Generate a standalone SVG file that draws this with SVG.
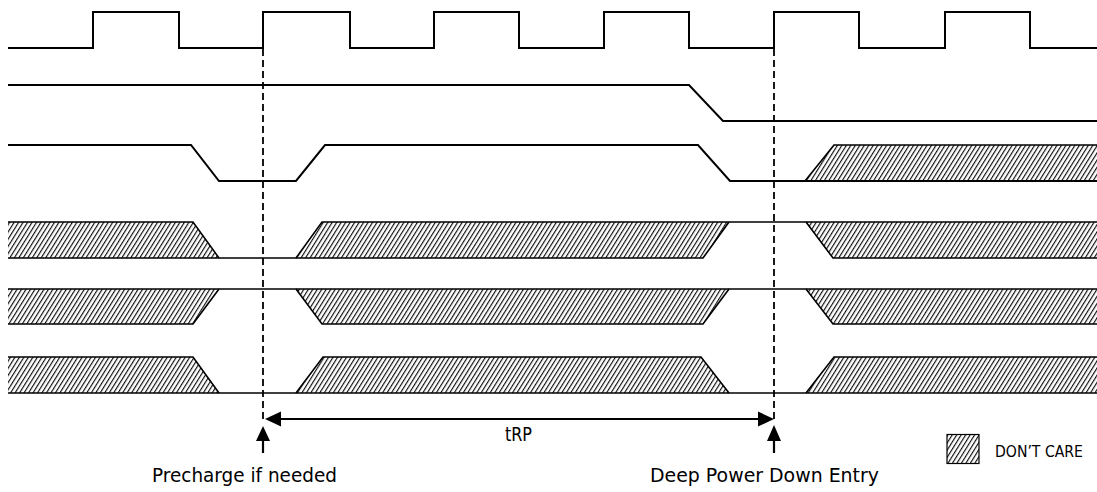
<svg xmlns="http://www.w3.org/2000/svg" width="1097" height="492" viewBox="0 0 1097 492">
<style>
.sig{fill:none;stroke:#000;stroke-width:2;stroke-linejoin:miter}
.bus{fill:none;stroke:#000;stroke-width:1.6}
.hatch{fill:url(#dc);stroke:none}
.dash{fill:none;stroke:#000;stroke-width:1.8;stroke-dasharray:7 4}
.arr{fill:none;stroke:#000;stroke-width:2.2}
.head{fill:#000}
.lbl{font-family:"DejaVu Sans","Verdana",sans-serif;fill:#000}
</style>
<defs>
<pattern id="dc" patternUnits="userSpaceOnUse" width="3.8" height="8" patternTransform="rotate(32)">
<rect width="3.8" height="8" fill="#fff"/>
<line x1="0.6" y1="0" x2="0.6" y2="8" stroke="#000" stroke-width="1.1"/>
</pattern>
</defs>
<rect width="1097" height="492" fill="#fff"/>

<g id="clk">
<path class="sig" d="M8,48 H93 V12 H179 V48 H263 V12 H350 V48 H434 V12 H519 V48 H604 V12 H689 V48 H774 V12 H859 V48 H945 V12 H1030 V48 H1097"/>
</g>

<g id="cke">
<path class="sig" d="M8,85 H689 L723,121 H1097"/>
</g>

<g id="cs">
<polygon class="hatch" points="805,181 834,145 1097,145 1097,181"/>
<path class="sig" d="M8,145 H191 L219,181 H296 L325,145 H698 L730,181 H1097"/>
<path class="bus" d="M805,181 L834,145 H1097"/>
</g>

<g id="ras">
<polygon class="hatch" points="8,222 193,222 219,258 8,258"/>
<polygon class="hatch" points="296,258 322,222 729,222 703,258"/>
<polygon class="hatch" points="806,222 1097,222 1097,258 833,258"/>
<path class="bus" d="M8,258 H703 L729,222"/>
<path class="bus" d="M8,222 H193 L219,258"/>
<path class="bus" d="M296,258 L322,222 H1097"/>
<path class="bus" d="M806,222 L833,258 H1097"/>
</g>

<g id="cas">
<polygon class="hatch" points="8,289 219,289 193,324 8,324"/>
<polygon class="hatch" points="296,289 729,289 703,324 322,324"/>
<polygon class="hatch" points="806,289 1097,289 1097,324 833,324"/>
<path class="bus" d="M8,289 H1097"/>
<path class="bus" d="M8,324 H193 L219,289"/>
<path class="bus" d="M296,289 L322,324 H703 L729,289"/>
<path class="bus" d="M806,289 L833,324 H1097"/>
</g>

<g id="we">
<polygon class="hatch" points="8,357 193,357 219,393 8,393"/>
<polygon class="hatch" points="296,393 323,357 701,357 729,393"/>
<polygon class="hatch" points="806,393 834,357 1097,357 1097,393"/>
<path class="bus" d="M8,393 H1097"/>
<path class="bus" d="M8,357 H193 L219,393"/>
<path class="bus" d="M296,393 L323,357 H701 L729,393"/>
<path class="bus" d="M806,393 L834,357 H1097"/>
</g>

<g id="connectors">
<line class="dash" x1="263" y1="49" x2="263" y2="420"/>
<line class="dash" x1="774" y1="49" x2="774" y2="420"/>
<line class="arr" x1="279" y1="419" x2="760" y2="419"/>
<polygon class="head" points="265,419 281,411.5 281,426.5"/>
<polygon class="head" points="774,419 758,411.5 758,426.5"/>
<line class="arr" x1="263" y1="439" x2="263" y2="453"/>
<polygon class="head" points="263,426 256,441 270,441"/>
<line class="arr" x1="774" y1="439" x2="774" y2="453"/>
<polygon class="head" points="774,425 767,441 781,441"/>
</g>

<g id="labels">
<text class="lbl" x="505" y="441" font-size="19" textLength="27" lengthAdjust="spacingAndGlyphs">tRP</text>
<text class="lbl" x="152" y="482" font-size="20" textLength="185" lengthAdjust="spacingAndGlyphs">Precharge if needed</text>
<text class="lbl" x="650" y="482" font-size="20" textLength="229" lengthAdjust="spacingAndGlyphs">Deep Power Down Entry</text>
</g>

<g id="legend">
<rect x="947" y="434.5" width="32" height="29" fill="url(#dc)" stroke="#000" stroke-width="1.2"/>
<text class="lbl" x="995" y="457" font-size="16" textLength="88" lengthAdjust="spacingAndGlyphs">DON’T CARE</text>
</g>
</svg>
